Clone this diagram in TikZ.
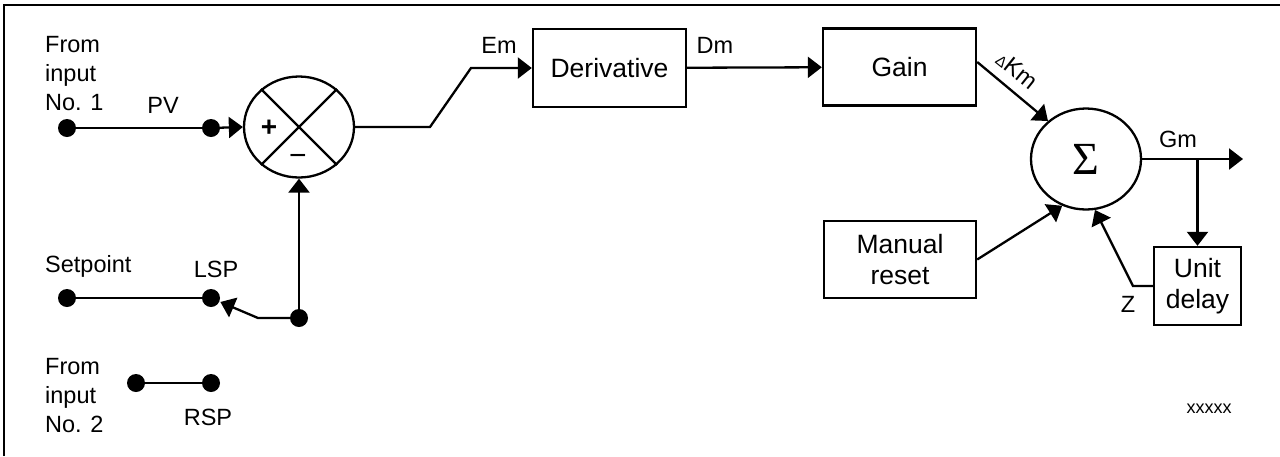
\documentclass[tikz,border=0pt]{standalone}
\usepackage{fontspec}
\setmainfont{Liberation Sans}
\newfontfamily\sigmafont{Liberation Serif}
\usetikzlibrary{arrows.meta,shapes.geometric}

\begin{document}
\begin{tikzpicture}[x=1pt,y=-1pt,
  wire/.style={line width=2.3pt},
  arr/.style={wire,-{Triangle[length=14pt 0 0,width=21pt 0 0]}},
  dotnode/.style={circle,fill=black,inner sep=0pt,minimum size=18pt},
  lbl/.style={font=\fontsize{23.5}{29}\selectfont,inner sep=0pt},
  blk/.style={draw,line width=2.4pt,inner sep=0pt,align=center,
              font=\fontsize{26.5}{30.5}\selectfont},
  junction/.style={ellipse,draw,line width=2.3pt,minimum width=110pt,
                   minimum height=101pt,inner sep=0pt}]

\useasboundingbox (0,0) rectangle (1280,456);
\draw[line width=1.5pt] (4,456) -- (4,5) -- (1280,5);

% terminals
\node[dotnode] (in1) at (67,128) {};
\node[dotnode] (pv)  at (211,128) {};
\node[dotnode] (spd) at (67,298) {};
\node[dotnode] (lsp) at (211,298) {};
\node[dotnode] (fb)  at (299,318) {};
\node[dotnode] (in2) at (136,383) {};
\node[dotnode] (rsp) at (211,383) {};

% comparator
\node[junction] (s1) at (299,127) {};
\draw[wire] (s1.135) -- (s1.-45) (s1.45) -- (s1.225);
\node[font=\bfseries\fontsize{28}{28}\selectfont,inner sep=0pt] (plus) at (269,128) {+};
\node[font=\fontsize{30}{30}\selectfont,inner sep=0pt] (minus) at (298,160) {−};

% blocks
\node[blk,minimum width=153pt,minimum height=78pt] (der)  at (609.5,68) {Derivative};
\node[blk,minimum width=153pt,minimum height=77pt] (gain) at (899.5,67) {Gain};
\node[blk,minimum width=152pt,minimum height=77pt] (man)  at (900,259.5) {Manual\\reset};
\node[blk,minimum width=87pt,minimum height=78pt]  (ud)   at (1197.5,286) {Unit\\delay};
\node[junction,font=\sigmafont\fontsize{46}{46}\selectfont] (sig) at (1086,159) {Σ};

% bends and free ends
\coordinate (e1) at (430,127);
\coordinate (e2) at (471,68);
\coordinate (sw) at (258,318);
\coordinate (gout) at (1243,159);
\coordinate (br) at (ud.north |- sig.east);
\coordinate (z1) at (1133,286);

% connectors
\draw[wire] (in1) -- (pv);
\draw[arr] (pv) -- (s1.west);
\draw[arr] (fb) -- (s1.south);
\draw[wire] (spd) -- (lsp);
\draw[arr,shorten >=1pt] (fb) -- (sw) -- (lsp);
\draw[wire] (in2) -- (rsp);
\draw[arr] (s1.east) -- (e1) -- (e2) -- (der.west);
\draw[arr] (der) -- (gain);
\draw[arr] ([yshift=5pt]gain.east) -- (sig.135);
\draw[arr] (man.east) -- (sig.243);
\draw[arr] (sig.east) -- (gout);
\draw[arr] (br) -- (ud.north);
\draw[arr] (ud.west) -- (z1) -- (sig.280);

% labels (a multi-line node sits on the baseline of its last line)
\node[lbl,anchor=base west,align=left] (t1) at (45,110) {From\\input\\No. 1};
\node[lbl,anchor=base] (tpv) at (163,113) {PV};
\node[lbl,anchor=base west] (tsp) at (45,272) {Setpoint};
\node[lbl,anchor=base] (tlsp) at (216,277) {LSP};
\node[lbl,anchor=base west,align=left] (t2) at (45,432) {From\\input\\No. 2};
\node[lbl,anchor=base] (trsp) at (208,425) {RSP};
\node[lbl,anchor=base] (tem) at (499,53) {Em};
\node[lbl,anchor=base] (tdm) at (715,53) {Dm};
\node[lbl,anchor=base] (tgm) at (1178,147) {Gm};
\node[lbl,anchor=base] (tz) at (1128,312) {Z};
\node[lbl,rotate=-38.6] (tdk) at (1017,70) {{\fontsize{15}{15}\selectfont Δ}Km};
\node[font=\fontsize{18}{18}\selectfont,anchor=base,inner sep=0pt] (tx) at (1209,413) {xxxxx};
\end{tikzpicture}
\end{document}
